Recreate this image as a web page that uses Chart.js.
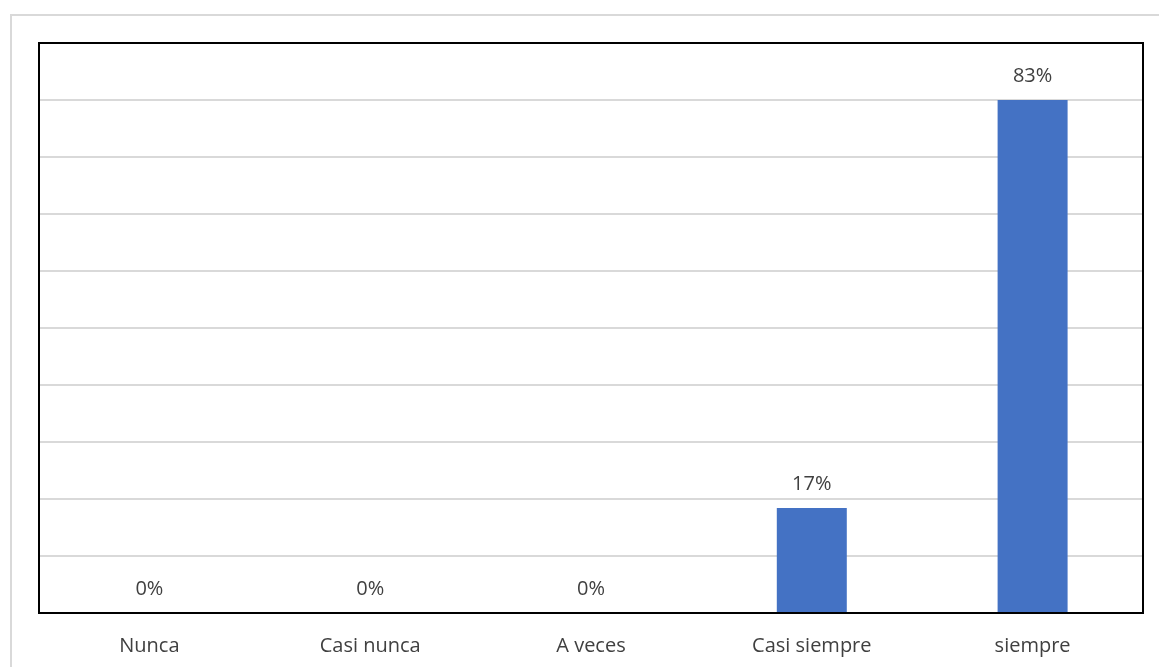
<!DOCTYPE html>
<html>
<head>
<meta charset="utf-8">
<script src="https://cdn.jsdelivr.net/npm/chart.js@4.4.1/dist/chart.umd.min.js"></script>
<style>
  html, body { margin: 0; padding: 0; background: #ffffff; }
  #wrap { width: 1159px; height: 667px; position: relative; }
</style>
</head>
<body>
<div id="wrap"><canvas id="chart"></canvas></div>
<script>
const categories = ['Nunca', 'Casi nunca', 'A veces', 'Casi siempre', 'siempre'];
const percentages = [0, 0, 0, 17, 83];

const textColor = '#404040';
const fontFamily = "'Open Sans', 'Noto Sans', sans-serif";

// top of the value axis: the tallest bar sits on the ninth of ten grid lines
const yMax = Math.max(...percentages) / 0.9;

// light grey frame around the whole chart
const outerFrame = {
    id: 'outerFrame',
    beforeDraw(chart) {
        const ctx = chart.ctx;
        ctx.save();
        ctx.strokeStyle = '#d9d9d9';
        ctx.lineWidth = 2;
        ctx.strokeRect(11, 15, chart.width + 20, chart.height + 20);
        ctx.restore();
    }
};

// black box round the plot area and value labels over the bars
const plotBox = {
    id: 'plotBox',
    afterDatasetsDraw(chart) {
        const ctx = chart.ctx;
        const a = chart.chartArea;
        ctx.save();
        ctx.strokeStyle = '#000000';
        ctx.lineWidth = 2;
        ctx.strokeRect(a.left, a.top, a.right - a.left, a.bottom - a.top);

        ctx.fillStyle = textColor;
        ctx.font = '20px ' + fontFamily;
        ctx.textAlign = 'center';
        ctx.textBaseline = 'middle';
        const meta = chart.getDatasetMeta(0);
        meta.data.forEach((bar, i) => {
            ctx.fillText(percentages[i] + '%', bar.x, bar.y - 24);
        });
        ctx.restore();
    }
};

new Chart(document.getElementById('chart'), {
    type: 'bar',
    data: {
        labels: categories,
        datasets: [{
            data: percentages,
            backgroundColor: '#4472c4',
            barPercentage: 0.317,
            categoryPercentage: 1.0
        }]
    },
    options: {
        responsive: true,
        maintainAspectRatio: false,
        animation: false,
        layout: { padding: { left: 39, right: 16, top: 43, bottom: 0 } },
        plugins: {
            legend: { display: false },
            tooltip: { enabled: false }
        },
        scales: {
            x: {
                grid: { display: false, drawTicks: false },
                border: { display: false },
                ticks: {
                    color: textColor,
                    font: { size: 20, family: fontFamily },
                    padding: 21
                },
                afterFit(scale) { scale.height = 54; }
            },
            y: {
                min: 0,
                max: yMax,
                grid: { color: '#d9d9d9', lineWidth: 2, drawTicks: false },
                border: { display: false },
                ticks: { display: false, stepSize: yMax / 10 }
            }
        }
    },
    plugins: [outerFrame, plotBox]
});
</script>
</body>
</html>
